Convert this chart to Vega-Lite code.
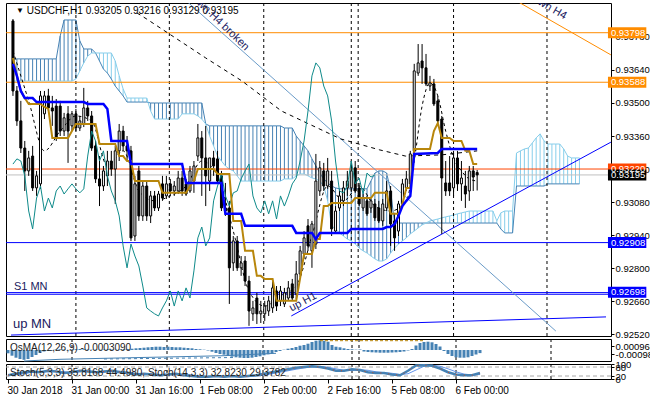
{
"$schema": "https://vega.github.io/schema/vega-lite/v6.json",
"padding": {"left": 2, "top": 2, "right": 0, "bottom": 0},
"background": "white",
"spacing": 3,
"bounds": "flush",
"config": {"view": {"stroke": "black", "strokeWidth": 1}, "font": "Liberation Sans", "text": {"font": "Liberation Sans"},
 "axis": {"domain": false, "grid": false, "ticks": true, "tickSize": 3, "tickColor": "black", "labelColor": "black", "labelFont": "Liberation Sans", "labelFontSize": 9.5, "labelPadding": 1, "labelOverlap": false}},
"resolve": {"scale": {"x": "independent", "y": "independent", "color": "independent"}},
"datasets": {
"candles": [
{"i":0,"o":0.93848,"h":0.93856,"l":0.93530,"c":0.93551},
{"i":1,"o":0.93551,"h":0.93572,"l":0.93403,"c":0.93424},
{"i":2,"o":0.93424,"h":0.93509,"l":0.93288,"c":0.93309},
{"i":3,"o":0.93309,"h":0.93339,"l":0.93127,"c":0.93212},
{"i":4,"o":0.93212,"h":0.93297,"l":0.93191,"c":0.93267},
{"i":5,"o":0.93275,"h":0.93318,"l":0.93127,"c":0.93140},
{"i":6,"o":0.93140,"h":0.93212,"l":0.93106,"c":0.93191},
{"i":7,"o":0.93157,"h":0.93551,"l":0.93136,"c":0.93530},
{"i":8,"o":0.93454,"h":0.93551,"l":0.93432,"c":0.93530},
{"i":9,"o":0.93530,"h":0.93560,"l":0.93466,"c":0.93479},
{"i":10,"o":0.93479,"h":0.93530,"l":0.93403,"c":0.93466},
{"i":11,"o":0.93487,"h":0.93517,"l":0.93339,"c":0.93352},
{"i":12,"o":0.93487,"h":0.93509,"l":0.93360,"c":0.93381},
{"i":13,"o":0.93381,"h":0.93458,"l":0.93360,"c":0.93437},
{"i":14,"o":0.93454,"h":0.93487,"l":0.93246,"c":0.93381},
{"i":15,"o":0.93403,"h":0.93466,"l":0.93381,"c":0.93454},
{"i":16,"o":0.93454,"h":0.93475,"l":0.93381,"c":0.93394},
{"i":17,"o":0.93394,"h":0.93445,"l":0.93381,"c":0.93424},
{"i":18,"o":0.93411,"h":0.93564,"l":0.93398,"c":0.93479},
{"i":19,"o":0.93479,"h":0.93509,"l":0.93424,"c":0.93445},
{"i":20,"o":0.93445,"h":0.93466,"l":0.93297,"c":0.93309},
{"i":21,"o":0.93318,"h":0.93339,"l":0.93161,"c":0.93178},
{"i":22,"o":0.93178,"h":0.93275,"l":0.93063,"c":0.93148},
{"i":23,"o":0.93148,"h":0.93233,"l":0.93127,"c":0.93212},
{"i":24,"o":0.93191,"h":0.93297,"l":0.93148,"c":0.93254},
{"i":25,"o":0.93254,"h":0.93297,"l":0.93191,"c":0.93220},
{"i":26,"o":0.93220,"h":0.93318,"l":0.93072,"c":0.93297},
{"i":27,"o":0.93297,"h":0.93411,"l":0.93254,"c":0.93381},
{"i":28,"o":0.93381,"h":0.93403,"l":0.93297,"c":0.93318},
{"i":29,"o":0.93318,"h":0.93360,"l":0.93254,"c":0.93297},
{"i":30,"o":0.93297,"h":0.93318,"l":0.92915,"c":0.92928},
{"i":31,"o":0.92936,"h":0.93191,"l":0.92915,"c":0.93157},
{"i":32,"o":0.93212,"h":0.93233,"l":0.93000,"c":0.93021},
{"i":33,"o":0.93021,"h":0.93169,"l":0.93000,"c":0.93148},
{"i":34,"o":0.93148,"h":0.93169,"l":0.93000,"c":0.93021},
{"i":35,"o":0.93021,"h":0.93127,"l":0.92991,"c":0.93106},
{"i":36,"o":0.93106,"h":0.93127,"l":0.93042,"c":0.93055},
{"i":37,"o":0.93055,"h":0.93127,"l":0.93042,"c":0.93114},
{"i":38,"o":0.93157,"h":0.93191,"l":0.93085,"c":0.93097},
{"i":39,"o":0.93106,"h":0.93191,"l":0.93093,"c":0.93157},
{"i":40,"o":0.93157,"h":0.93178,"l":0.93106,"c":0.93127},
{"i":41,"o":0.93127,"h":0.93169,"l":0.93106,"c":0.93148},
{"i":42,"o":0.93127,"h":0.93212,"l":0.93114,"c":0.93182},
{"i":43,"o":0.93182,"h":0.93212,"l":0.93106,"c":0.93127},
{"i":44,"o":0.93157,"h":0.93178,"l":0.93106,"c":0.93114},
{"i":45,"o":0.93127,"h":0.93233,"l":0.93119,"c":0.93212},
{"i":46,"o":0.93169,"h":0.93254,"l":0.93119,"c":0.93233},
{"i":47,"o":0.93275,"h":0.93411,"l":0.93254,"c":0.93352},
{"i":48,"o":0.93352,"h":0.93381,"l":0.93106,"c":0.93267},
{"i":49,"o":0.93267,"h":0.93403,"l":0.93063,"c":0.93191},
{"i":50,"o":0.93169,"h":0.93233,"l":0.93127,"c":0.93267},
{"i":51,"o":0.93267,"h":0.93297,"l":0.93191,"c":0.93233},
{"i":52,"o":0.93263,"h":0.93297,"l":0.93161,"c":0.93169},
{"i":53,"o":0.93191,"h":0.93212,"l":0.93042,"c":0.93055},
{"i":54,"o":0.93055,"h":0.93161,"l":0.93021,"c":0.93042},
{"i":55,"o":0.93055,"h":0.93085,"l":0.92648,"c":0.92801},
{"i":56,"o":0.92822,"h":0.92936,"l":0.92788,"c":0.92915},
{"i":57,"o":0.92915,"h":0.92936,"l":0.92788,"c":0.92801},
{"i":58,"o":0.92801,"h":0.92851,"l":0.92767,"c":0.92822},
{"i":59,"o":0.92830,"h":0.92851,"l":0.92724,"c":0.92745},
{"i":60,"o":0.92745,"h":0.92767,"l":0.92555,"c":0.92618},
{"i":61,"o":0.92606,"h":0.92661,"l":0.92576,"c":0.92631},
{"i":62,"o":0.92673,"h":0.92695,"l":0.92563,"c":0.92606},
{"i":63,"o":0.92606,"h":0.92661,"l":0.92567,"c":0.92618},
{"i":64,"o":0.92606,"h":0.92661,"l":0.92576,"c":0.92639},
{"i":65,"o":0.92618,"h":0.92682,"l":0.92597,"c":0.92661},
{"i":66,"o":0.92631,"h":0.92745,"l":0.92610,"c":0.92716},
{"i":67,"o":0.92703,"h":0.92724,"l":0.92618,"c":0.92639},
{"i":68,"o":0.92661,"h":0.92724,"l":0.92639,"c":0.92703},
{"i":69,"o":0.92648,"h":0.92716,"l":0.92635,"c":0.92695},
{"i":70,"o":0.92673,"h":0.92745,"l":0.92661,"c":0.92716},
{"i":71,"o":0.92733,"h":0.92754,"l":0.92661,"c":0.92673},
{"i":72,"o":0.92690,"h":0.92830,"l":0.92669,"c":0.92775},
{"i":73,"o":0.92775,"h":0.92894,"l":0.92762,"c":0.92873},
{"i":74,"o":0.92860,"h":0.92957,"l":0.92839,"c":0.92928},
{"i":75,"o":0.92979,"h":0.93008,"l":0.92873,"c":0.92894},
{"i":76,"o":0.92873,"h":0.93000,"l":0.92801,"c":0.92987},
{"i":77,"o":0.92902,"h":0.93284,"l":0.92881,"c":0.93169},
{"i":78,"o":0.93127,"h":0.93254,"l":0.93106,"c":0.93225},
{"i":79,"o":0.93212,"h":0.93246,"l":0.93127,"c":0.93148},
{"i":80,"o":0.93148,"h":0.93267,"l":0.93136,"c":0.93212},
{"i":81,"o":0.93169,"h":0.93212,"l":0.92936,"c":0.92966},
{"i":82,"o":0.92957,"h":0.93063,"l":0.92945,"c":0.93042},
{"i":83,"o":0.93055,"h":0.93127,"l":0.93042,"c":0.93106},
{"i":84,"o":0.93085,"h":0.93169,"l":0.93063,"c":0.93140},
{"i":85,"o":0.93140,"h":0.93212,"l":0.93106,"c":0.93169},
{"i":86,"o":0.93140,"h":0.93254,"l":0.93127,"c":0.93212},
{"i":87,"o":0.93225,"h":0.93254,"l":0.93119,"c":0.93127},
{"i":88,"o":0.93140,"h":0.93161,"l":0.93063,"c":0.93072},
{"i":89,"o":0.93055,"h":0.93114,"l":0.93042,"c":0.93097},
{"i":90,"o":0.93085,"h":0.93106,"l":0.93021,"c":0.93030},
{"i":91,"o":0.93055,"h":0.93093,"l":0.93034,"c":0.93085},
{"i":92,"o":0.93072,"h":0.93093,"l":0.93000,"c":0.93013},
{"i":93,"o":0.93055,"h":0.93085,"l":0.92991,"c":0.93000},
{"i":94,"o":0.93000,"h":0.93093,"l":0.92979,"c":0.93072},
{"i":95,"o":0.93055,"h":0.93169,"l":0.93042,"c":0.93127},
{"i":96,"o":0.93127,"h":0.93148,"l":0.92894,"c":0.92987},
{"i":97,"o":0.93000,"h":0.93034,"l":0.92873,"c":0.92928},
{"i":98,"o":0.92957,"h":0.93085,"l":0.92936,"c":0.93072},
{"i":99,"o":0.93072,"h":0.93178,"l":0.93059,"c":0.93157},
{"i":100,"o":0.93140,"h":0.93212,"l":0.93127,"c":0.93178},
{"i":101,"o":0.93157,"h":0.93297,"l":0.93144,"c":0.93284},
{"i":102,"o":0.93297,"h":0.93666,"l":0.93284,"c":0.93636},
{"i":103,"o":0.93627,"h":0.93750,"l":0.93615,"c":0.93670},
{"i":104,"o":0.93678,"h":0.93750,"l":0.93581,"c":0.93649},
{"i":105,"o":0.93649,"h":0.93708,"l":0.93572,"c":0.93581},
{"i":106,"o":0.93572,"h":0.93615,"l":0.93551,"c":0.93585},
{"i":107,"o":0.93581,"h":0.93602,"l":0.93487,"c":0.93496},
{"i":108,"o":0.93509,"h":0.93530,"l":0.93415,"c":0.93424},
{"i":109,"o":0.93432,"h":0.93445,"l":0.92945,"c":0.93182},
{"i":110,"o":0.93161,"h":0.93254,"l":0.93106,"c":0.93127},
{"i":111,"o":0.93161,"h":0.93275,"l":0.93106,"c":0.93127},
{"i":112,"o":0.93140,"h":0.93297,"l":0.93106,"c":0.93267},
{"i":113,"o":0.93267,"h":0.93297,"l":0.93127,"c":0.93157},
{"i":114,"o":0.93157,"h":0.93254,"l":0.93085,"c":0.93182},
{"i":115,"o":0.93148,"h":0.93212,"l":0.93055,"c":0.93114},
{"i":116,"o":0.93127,"h":0.93233,"l":0.93085,"c":0.93212},
{"i":117,"o":0.93212,"h":0.93233,"l":0.93127,"c":0.93186},
{"i":118,"o":0.93205,"h":0.93216,"l":0.93129,"c":0.93195}
],
"kijun": [
{"i":0,"p":0.93666},{"i":1,"p":0.93615},{"i":2,"p":0.93551},{"i":3,"p":0.93521},{"i":5,"p":0.93521},{"i":6,"p":0.93504},{"i":18,"p":0.93504},{"i":19,"p":0.93496},{"i":23,"p":0.93496},{"i":24,"p":0.93475},{"i":25,"p":0.93339},{"i":29,"p":0.93339},{"i":30,"p":0.93241},{"i":43,"p":0.93241},{"i":44,"p":0.93161},{"i":53,"p":0.93161},{"i":54,"p":0.93030},{"i":58,"p":0.93030},{"i":59,"p":0.92979},{"i":71,"p":0.92979},{"i":72,"p":0.92949},{"i":76,"p":0.92949},{"i":77,"p":0.92923},{"i":78,"p":0.92949},{"i":85,"p":0.92949},{"i":86,"p":0.92966},{"i":94,"p":0.92966},{"i":95,"p":0.92974},{"i":96,"p":0.92974},{"i":97,"p":0.92987},{"i":98,"p":0.93021},{"i":99,"p":0.93063},{"i":100,"p":0.93085},{"i":101,"p":0.93106},{"i":102,"p":0.93284},{"i":108,"p":0.93288},{"i":109,"p":0.93305},{"i":118,"p":0.93305}
],
"tenkan": [
{"i":0,"p":0.93691},{"i":1,"p":0.93615},{"i":2,"p":0.93551},{"i":3,"p":0.93521},{"i":4,"p":0.93496},{"i":7,"p":0.93496},{"i":8,"p":0.93483},{"i":9,"p":0.93475},{"i":10,"p":0.93352},{"i":14,"p":0.93352},{"i":15,"p":0.93381},{"i":16,"p":0.93411},{"i":21,"p":0.93411},{"i":22,"p":0.93326},{"i":26,"p":0.93326},{"i":27,"p":0.93275},{"i":28,"p":0.93275},{"i":29,"p":0.93254},{"i":30,"p":0.93254},{"i":31,"p":0.93169},{"i":37,"p":0.93169},{"i":38,"p":0.93119},{"i":44,"p":0.93119},{"i":45,"p":0.93148},{"i":46,"p":0.93169},{"i":47,"p":0.93220},{"i":51,"p":0.93220},{"i":52,"p":0.93199},{"i":55,"p":0.93199},{"i":56,"p":0.93000},{"i":58,"p":0.93000},{"i":59,"p":0.92873},{"i":61,"p":0.92873},{"i":62,"p":0.92767},{"i":63,"p":0.92767},{"i":64,"p":0.92754},{"i":66,"p":0.92754},{"i":67,"p":0.92661},{"i":72,"p":0.92661},{"i":73,"p":0.92758},{"i":74,"p":0.92860},{"i":76,"p":0.92860},{"i":77,"p":0.92923},{"i":78,"p":0.92923},{"i":79,"p":0.93063},{"i":80,"p":0.93063},{"i":81,"p":0.93076},{"i":86,"p":0.93076},{"i":87,"p":0.93097},{"i":91,"p":0.93097},{"i":92,"p":0.93119},{"i":95,"p":0.93119},{"i":96,"p":0.93030},{"i":98,"p":0.93030},{"i":99,"p":0.93072},{"i":100,"p":0.93140},{"i":101,"p":0.93140},{"i":102,"p":0.93305},{"i":106,"p":0.93305},{"i":107,"p":0.93381},{"i":108,"p":0.93415},{"i":109,"p":0.93352},{"i":111,"p":0.93352},{"i":112,"p":0.93339},{"i":114,"p":0.93339},{"i":115,"p":0.93297},{"i":116,"p":0.93297},{"i":117,"p":0.93241},{"i":118,"p":0.93241}
],
"chikou": [
{"i":0,"p":0.93241},{"i":1,"p":0.93263},{"i":2,"p":0.93254},{"i":3,"p":0.93191},{"i":4,"p":0.93042},{"i":5,"p":0.92966},{"i":6,"p":0.93097},{"i":7,"p":0.93148},{"i":8,"p":0.93042},{"i":9,"p":0.93097},{"i":10,"p":0.93055},{"i":11,"p":0.93127},{"i":12,"p":0.93148},{"i":13,"p":0.93114},{"i":14,"p":0.93136},{"i":15,"p":0.93157},{"i":16,"p":0.93136},{"i":17,"p":0.93119},{"i":18,"p":0.93136},{"i":19,"p":0.93275},{"i":20,"p":0.93381},{"i":21,"p":0.93339},{"i":22,"p":0.93254},{"i":23,"p":0.93297},{"i":24,"p":0.93191},{"i":25,"p":0.93127},{"i":26,"p":0.93085},{"i":27,"p":0.93021},{"i":28,"p":0.92894},{"i":29,"p":0.92801},{"i":30,"p":0.92902},{"i":31,"p":0.92851},{"i":32,"p":0.92809},{"i":33,"p":0.92724},{"i":34,"p":0.92631},{"i":35,"p":0.92618},{"i":36,"p":0.92606},{"i":37,"p":0.92597},{"i":38,"p":0.92631},{"i":39,"p":0.92661},{"i":40,"p":0.92703},{"i":41,"p":0.92639},{"i":42,"p":0.92703},{"i":43,"p":0.92661},{"i":44,"p":0.92716},{"i":45,"p":0.92673},{"i":46,"p":0.92788},{"i":47,"p":0.92928},{"i":48,"p":0.92974},{"i":49,"p":0.92894},{"i":50,"p":0.92928},{"i":51,"p":0.93085},{"i":52,"p":0.93148},{"i":53,"p":0.93199},{"i":54,"p":0.93106},{"i":55,"p":0.93063},{"i":56,"p":0.93119},{"i":57,"p":0.93127},{"i":58,"p":0.93178},{"i":59,"p":0.93212},{"i":60,"p":0.93241},{"i":61,"p":0.93106},{"i":62,"p":0.93055},{"i":63,"p":0.93034},{"i":64,"p":0.93085},{"i":65,"p":0.93030},{"i":66,"p":0.93085},{"i":67,"p":0.93008},{"i":68,"p":0.93106},{"i":69,"p":0.93063},{"i":70,"p":0.93106},{"i":71,"p":0.93157},{"i":72,"p":0.93182},{"i":73,"p":0.93254},{"i":74,"p":0.93339},{"i":75,"p":0.93466},{"i":76,"p":0.93615},{"i":77,"p":0.93670},{"i":78,"p":0.93649},{"i":79,"p":0.93572},{"i":80,"p":0.93530},{"i":81,"p":0.93424},{"i":82,"p":0.93254},{"i":83,"p":0.93127},{"i":84,"p":0.93119},{"i":85,"p":0.93148},{"i":86,"p":0.93254},{"i":87,"p":0.93157},{"i":88,"p":0.93182},{"i":89,"p":0.93114},{"i":90,"p":0.93203},{"i":91,"p":0.93186},{"i":92,"p":0.93195}
],
"cloud": [
{"i":0,"s":0.93687,"l":0.93593},{"i":1,"s":0.93687,"l":0.93593},{"i":2,"s":0.93687,"l":0.93593},{"i":3,"s":0.93687,"l":0.93593},{"i":4,"s":0.93687,"l":0.93593},{"i":5,"s":0.93687,"l":0.93593},{"i":6,"s":0.93687,"l":0.93593},{"i":7,"s":0.93687,"l":0.93593},{"i":8,"s":0.93687,"l":0.93593},{"i":9,"s":0.93687,"l":0.93593},{"i":10,"s":0.93687,"l":0.93593},{"i":11,"s":0.93687,"l":0.93593},
{"i":12,"s":0.93784,"l":0.93593},{"i":13,"s":0.93852,"l":0.93593},{"i":14,"s":0.93852,"l":0.93593},{"i":15,"s":0.93852,"l":0.93593},{"i":16,"s":0.93852,"l":0.93602},{"i":17,"s":0.93763,"l":0.93636},{"i":18,"s":0.93729,"l":0.93670},{"i":19,"s":0.93729,"l":0.93699},{"i":20,"s":0.93729,"l":0.93712},{"i":21,"s":0.93712,"l":0.93712},{"i":22,"s":0.93678,"l":0.93712},{"i":23,"s":0.93644,"l":0.93712},{"i":24,"s":0.93627,"l":0.93712},{"i":25,"s":0.93602,"l":0.93712},{"i":26,"s":0.93572,"l":0.93678},{"i":27,"s":0.93551,"l":0.93615},{"i":28,"s":0.93530,"l":0.93560},
{"i":29,"s":0.93504,"l":0.93521},{"i":30,"s":0.93504,"l":0.93521},{"i":31,"s":0.93504,"l":0.93521},{"i":32,"s":0.93504,"l":0.93521},{"i":33,"s":0.93504,"l":0.93521},{"i":34,"s":0.93504,"l":0.93521},{"i":35,"s":0.93500,"l":0.93466},
{"i":36,"s":0.93500,"l":0.93432},{"i":37,"s":0.93500,"l":0.93432},{"i":38,"s":0.93500,"l":0.93432},{"i":39,"s":0.93500,"l":0.93432},{"i":40,"s":0.93500,"l":0.93432},{"i":41,"s":0.93500,"l":0.93432},{"i":42,"s":0.93500,"l":0.93432},
{"i":43,"s":0.93500,"l":0.93454},{"i":44,"s":0.93500,"l":0.93454},{"i":45,"s":0.93500,"l":0.93454},{"i":46,"s":0.93500,"l":0.93454},{"i":47,"s":0.93500,"l":0.93445},{"i":48,"s":0.93500,"l":0.93432},{"i":49,"s":0.93411,"l":0.93411},
{"i":50,"s":0.93403,"l":0.93360},{"i":51,"s":0.93403,"l":0.93318},{"i":52,"s":0.93403,"l":0.93275},{"i":53,"s":0.93403,"l":0.93254},{"i":54,"s":0.93403,"l":0.93233},{"i":55,"s":0.93403,"l":0.93220},{"i":56,"s":0.93403,"l":0.93212},{"i":57,"s":0.93403,"l":0.93191},
{"i":58,"s":0.93403,"l":0.93169},{"i":59,"s":0.93403,"l":0.93169},{"i":60,"s":0.93403,"l":0.93169},{"i":61,"s":0.93403,"l":0.93169},{"i":62,"s":0.93403,"l":0.93169},{"i":63,"s":0.93403,"l":0.93169},{"i":64,"s":0.93403,"l":0.93169},{"i":65,"s":0.93403,"l":0.93169},{"i":66,"s":0.93403,"l":0.93169},{"i":67,"s":0.93403,"l":0.93169},{"i":68,"s":0.93403,"l":0.93169},
{"i":69,"s":0.93394,"l":0.93178},{"i":70,"s":0.93394,"l":0.93178},{"i":71,"s":0.93394,"l":0.93178},{"i":72,"s":0.93360,"l":0.93191},{"i":73,"s":0.93339,"l":0.93199},{"i":74,"s":0.93318,"l":0.93199},{"i":75,"s":0.93297,"l":0.93191},{"i":76,"s":0.93263,"l":0.93182},{"i":77,"s":0.93233,"l":0.93178},{"i":78,"s":0.93203,"l":0.93169},{"i":79,"s":0.93178,"l":0.93148},{"i":80,"s":0.93161,"l":0.93085},
{"i":81,"s":0.93148,"l":0.92979},{"i":82,"s":0.93140,"l":0.92966},{"i":83,"s":0.93136,"l":0.92949},{"i":84,"s":0.93136,"l":0.92936},{"i":85,"s":0.93136,"l":0.92923},{"i":86,"s":0.93136,"l":0.92915},{"i":87,"s":0.93136,"l":0.92902},{"i":88,"s":0.93136,"l":0.92885},{"i":89,"s":0.93136,"l":0.92873},{"i":90,"s":0.93136,"l":0.92864},
{"i":91,"s":0.93169,"l":0.92851},{"i":92,"s":0.93203,"l":0.92839},{"i":93,"s":0.93212,"l":0.92830},{"i":94,"s":0.93212,"l":0.92830},{"i":95,"s":0.93203,"l":0.92839},{"i":96,"s":0.93127,"l":0.92864},
{"i":97,"s":0.92991,"l":0.92885},{"i":98,"s":0.92991,"l":0.92902},{"i":99,"s":0.92991,"l":0.92915},{"i":100,"s":0.92991,"l":0.92928},{"i":101,"s":0.92991,"l":0.92945},{"i":102,"s":0.92991,"l":0.92957},{"i":103,"s":0.92991,"l":0.92970},{"i":104,"s":0.92991,"l":0.92983},{"i":105,"s":0.92991,"l":0.92991},{"i":106,"s":0.92991,"l":0.93000},{"i":107,"s":0.92991,"l":0.93004},{"i":108,"s":0.92991,"l":0.93008},{"i":109,"s":0.92991,"l":0.93013},{"i":110,"s":0.92991,"l":0.93017},{"i":111,"s":0.92991,"l":0.93021},{"i":112,"s":0.92991,"l":0.93025},{"i":113,"s":0.92991,"l":0.93030},{"i":114,"s":0.92991,"l":0.93034},{"i":115,"s":0.92991,"l":0.93038},
{"i":116,"s":0.92991,"l":0.93042},{"i":117,"s":0.92991,"l":0.93042},{"i":118,"s":0.92991,"l":0.93042},{"i":119,"s":0.92991,"l":0.93042},{"i":120,"s":0.92991,"l":0.93042},{"i":121,"s":0.92991,"l":0.93042},{"i":122,"s":0.92991,"l":0.93042},{"i":123,"s":0.92991,"l":0.93000},{"i":124,"s":0.92966,"l":0.93034},{"i":125,"s":0.92949,"l":0.93042},{"i":126,"s":0.92949,"l":0.93042},{"i":127,"s":0.92949,"l":0.93042},
{"i":128,"s":0.93148,"l":0.93288},{"i":129,"s":0.93148,"l":0.93297},{"i":130,"s":0.93148,"l":0.93305},{"i":131,"s":0.93148,"l":0.93309},{"i":132,"s":0.93148,"l":0.93330},{"i":133,"s":0.93148,"l":0.93352},{"i":134,"s":0.93148,"l":0.93369},{"i":135,"s":0.93148,"l":0.93339},
{"i":136,"s":0.93157,"l":0.93326},{"i":137,"s":0.93157,"l":0.93326},{"i":138,"s":0.93157,"l":0.93326},{"i":139,"s":0.93157,"l":0.93326},{"i":140,"s":0.93157,"l":0.93305},{"i":141,"s":0.93157,"l":0.93275},{"i":142,"s":0.93157,"l":0.93267},{"i":143,"s":0.93157,"l":0.93267},{"i":144,"s":0.93157,"l":0.93267}
],
"ma1": [
{"i":31.5,"p":0.93882},{"i":34,"p":0.93856},{"i":49,"p":0.93691},{"i":58.25,"p":0.93593},{"i":68.25,"p":0.93466},{"i":83.25,"p":0.93348},{"i":93.25,"p":0.93301},{"i":99.75,"p":0.93275},{"i":109,"p":0.93280},{"i":118,"p":0.93297}
],
"ma2": [
{"i":0,"p":0.93721},{"i":4,"p":0.93509},{"i":8,"p":0.93297},{"i":12,"p":0.93381},{"i":16,"p":0.93445},{"i":20,"p":0.93424},{"i":24,"p":0.93233},{"i":28,"p":0.93297},{"i":32,"p":0.93127},{"i":36,"p":0.93085},{"i":40,"p":0.93106},{"i":44,"p":0.93148},{"i":48,"p":0.93254},{"i":52,"p":0.93191},{"i":56,"p":0.92957},{"i":60,"p":0.92703},{"i":64,"p":0.92639},{"i":68,"p":0.92682},{"i":72,"p":0.92724},{"i":76,"p":0.92936},{"i":80,"p":0.93148},{"i":84,"p":0.93085},{"i":88,"p":0.93148},{"i":92,"p":0.93063},{"i":96,"p":0.93042},{"i":100,"p":0.93085},{"i":102,"p":0.93254},{"i":104,"p":0.93487},{"i":106,"p":0.93585},{"i":108,"p":0.93530},{"i":110,"p":0.93381},{"i":112,"p":0.93267},{"i":114,"p":0.93212},{"i":116,"p":0.93178},{"i":118,"p":0.93169}
],
"hl": [
{"p":0.93798,"n":"r1"},{"p":0.93588,"n":"r2"},{"p":0.93220,"n":"piv"},{"p":0.93195,"n":"bid"},{"p":0.92908,"n":"s1"},{"p":0.92696,"n":"mn1"},{"p":0.92689,"n":"mn2"}
],
"tags": [
{"p":0.93798,"t":"0.93798","n":"r1"},{"p":0.93588,"t":"0.93588","n":"r2"},{"p":0.93220,"t":"0.93220","n":"piv"},{"p":0.93195,"t":"0.93195","n":"bidtag"},{"p":0.92908,"t":"0.92908","n":"s1"},{"p":0.92698,"t":"0.92698","n":"mn1"}
],
"segs": [
{"n":"dh4b","i1":44,"p1":0.93934,"i2":138,"p2":0.92533},
{"n":"dh4","i1":128,"p1":0.93933,"i2":152,"p2":0.93704},
{"n":"uph1","i1":70.75,"p1":0.92597,"i2":152,"p2":0.93334},
{"n":"upmn","i1":-0.5,"p1":0.92516,"i2":150.75,"p2":0.92593}
],
"notes": [
{"k":"tri","i":0.75,"p":0.9389,"t":"▼"},
{"k":"title","i":3.5,"p":0.9389,"t":"USDCHF,H1  0.93205 0.93216 0.93129 0.93195"},
{"k":"s1mn","i":0.25,"p":0.9272,"t":"S1 MN"},
{"k":"upmn","i":0.0,"p":0.92563,"t":"up MN"},
{"k":"uph1","i":73.75,"p":0.92656,"t":"up H1"},
{"k":"dh4b","i":52.25,"p":0.93848,"t":"down H4 broken"},
{"k":"dh4","i":135.75,"p":0.93911,"t":"down H4"}
],
"seps": [{"i":16},{"i":39.75},{"i":63.75},{"i":86},{"i":87.75},{"i":112},{"i":135.75}],
"osma": [
{"i":0,"v":-0.00033},{"i":1,"v":-0.00057},{"i":2,"v":-0.00077},{"i":3,"v":-0.0009},{"i":4,"v":-0.00098},{"i":5,"v":-0.0009},{"i":6,"v":-0.0007},{"i":7,"v":-0.0005},{"i":8,"v":-0.0003},{"i":9,"v":-0.00015},{"i":10,"v":-0.00008},{"i":11,"v":-0.00005},{"i":12,"v":0.00005},{"i":13,"v":0.00008},{"i":14,"v":0.00005},{"i":15,"v":-0.00005},{"i":16,"v":0.00005},{"i":17,"v":0.00008},{"i":18,"v":0.0001},{"i":19,"v":0.00008},{"i":20,"v":0.00005},{"i":21,"v":0.00003},{"i":22,"v":0.00005},{"i":23,"v":0.00003},{"i":24,"v":0.00005},{"i":25,"v":0.00008},{"i":26,"v":0.00005},{"i":27,"v":0.00003},{"i":28,"v":0.00005},{"i":29,"v":0.00007},{"i":30,"v":0.0001},{"i":31,"v":0.00013},{"i":32,"v":0.00017},{"i":33,"v":0.0002},{"i":34,"v":0.00023},{"i":35,"v":0.00027},{"i":36,"v":0.0003},{"i":37,"v":0.00033},{"i":38,"v":0.00033},{"i":39,"v":0.0003},{"i":40,"v":0.00033},{"i":41,"v":0.0003},{"i":42,"v":0.00027},{"i":43,"v":0.00027},{"i":44,"v":0.00023},{"i":45,"v":0.0002},{"i":46,"v":0.00017},{"i":47,"v":0.0001},{"i":48,"v":0.00007},{"i":49,"v":0.00003},{"i":50,"v":-0.00005},{"i":51,"v":-0.00017},{"i":52,"v":-0.0003},{"i":53,"v":-0.0004},{"i":54,"v":-0.00047},{"i":55,"v":-0.0006},{"i":56,"v":-0.00067},{"i":57,"v":-0.00073},{"i":58,"v":-0.00077},{"i":59,"v":-0.0008},{"i":60,"v":-0.0008},{"i":61,"v":-0.00077},{"i":62,"v":-0.0007},{"i":63,"v":-0.00063},{"i":64,"v":-0.00053},{"i":65,"v":-0.00043},{"i":66,"v":-0.0003},{"i":67,"v":-0.0002},{"i":68,"v":-0.0001},{"i":69,"v":0.00003},{"i":70,"v":0.00013},{"i":71,"v":0.0002},{"i":72,"v":0.0003},{"i":73,"v":0.00043},{"i":74,"v":0.0005},{"i":75,"v":0.00063},{"i":76,"v":0.0008},{"i":77,"v":0.00093},{"i":78,"v":0.00097},{"i":79,"v":0.00093},{"i":80,"v":0.00083},{"i":81,"v":0.0005},{"i":82,"v":0.00033},{"i":83,"v":0.00027},{"i":84,"v":0.00017},{"i":85,"v":0.0001},{"i":86,"v":0.00007},{"i":87,"v":0.00003},{"i":88,"v":0.00005},{"i":89,"v":-0.00015},{"i":90,"v":-0.0002},{"i":91,"v":-0.00023},{"i":92,"v":-0.00025},{"i":93,"v":-0.00027},{"i":94,"v":-0.00027},{"i":95,"v":-0.00027},{"i":96,"v":-0.00025},{"i":97,"v":-0.00023},{"i":98,"v":-0.0002},{"i":99,"v":-0.00015},{"i":100,"v":-0.00005},{"i":101,"v":0.0001},{"i":102,"v":0.00045},{"i":103,"v":0.0007},{"i":104,"v":0.0008},{"i":105,"v":0.00083},{"i":106,"v":0.00077},{"i":107,"v":0.0006},{"i":108,"v":0.00035},{"i":109,"v":-0.0001},{"i":110,"v":-0.0004},{"i":111,"v":-0.0006},{"i":112,"v":-0.00073},{"i":113,"v":-0.00077},{"i":114,"v":-0.00077},{"i":115,"v":-0.00073},{"i":116,"v":-0.0006},{"i":117,"v":-0.00045},{"i":118,"v":-0.00031}
],
"osl": [{"i":4,"v":-0.0011},{"i":13,"v":-0.00093},{"i":31,"v":-0.00077},{"i":43,"v":-0.00067},{"i":54,"v":-0.00057},{"i":67,"v":-0.00033}],
"osd": [{"i":24,"v":-0.0009},{"i":57,"v":-0.00075}],
"oso": [{"i":78,"v":0.00093},{"i":104,"v":0.00093}],
"stoch": [
{"i":0,"a":25,"b":30},{"i":2,"a":35,"b":28},{"i":4,"a":45,"b":35},{"i":6,"a":50,"b":45},{"i":8,"a":45,"b":50},{"i":10,"a":55,"b":48},{"i":12,"a":50,"b":52},{"i":14,"a":40,"b":48},{"i":16,"a":45,"b":42},{"i":18,"a":55,"b":48},{"i":20,"a":50,"b":54},{"i":22,"a":45,"b":50},{"i":24,"a":50,"b":46},{"i":26,"a":55,"b":50},{"i":28,"a":45,"b":52},{"i":30,"a":40,"b":45},{"i":32,"a":30,"b":38},{"i":34,"a":35,"b":32},{"i":36,"a":30,"b":33},{"i":38,"a":25,"b":30},{"i":40,"a":30,"b":27},{"i":42,"a":35,"b":30},{"i":44,"a":25,"b":32},{"i":46,"a":20,"b":26},{"i":48,"a":15,"b":20},{"i":50,"a":15,"b":16},{"i":52,"a":20,"b":16},{"i":54,"a":15,"b":18},{"i":56,"a":20,"b":16},{"i":58,"a":15,"b":18},{"i":60,"a":20,"b":16},{"i":62,"a":25,"b":20},{"i":64,"a":35,"b":26},{"i":66,"a":45,"b":35},{"i":68,"a":55,"b":45},{"i":70,"a":65,"b":55},{"i":72,"a":75,"b":65},{"i":74,"a":80,"b":74},{"i":76,"a":85,"b":80},{"i":78,"a":80,"b":84},{"i":80,"a":70,"b":78},{"i":82,"a":55,"b":68},{"i":84,"a":55,"b":58},{"i":86,"a":65,"b":56},{"i":88,"a":60,"b":62},{"i":90,"a":45,"b":58},{"i":92,"a":40,"b":48},{"i":94,"a":40,"b":42},{"i":96,"a":30,"b":38},{"i":98,"a":25,"b":30},{"i":100,"a":55,"b":35},{"i":102,"a":90,"b":60},{"i":104,"a":92,"b":85},{"i":106,"a":88,"b":92},{"i":108,"a":70,"b":85},{"i":110,"a":45,"b":68},{"i":112,"a":30,"b":48},{"i":114,"a":25,"b":33},{"i":116,"a":25,"b":27},{"i":118,"a":40,"b":30}
],
"levels": [{"v":80},{"v":20}],
"sublabels": [{"k":"osma","t":"OsMA(12,26,9) -0.0003090"},{"k":"stoch","t":"Stoch(5,3,3) 35.8168 44.4980, Stoch(14,3,3) 32.8230 29.3782"}]
},
"vconcat": [
{
"width": 605, "height": 333,
"encoding": {
 "x": {"type": "quantitative", "scale": {"domain": [-0.5, 150.75], "nice": false, "zero": false}, "axis": null},
 "y": {"type": "quantitative", "scale": {"domain": [0.92512, 0.93924], "nice": false, "zero": false},
       "axis": {"orient": "right", "values": [0.9252, 0.9266, 0.928, 0.9294, 0.9308, 0.9322, 0.9336, 0.935, 0.9364, 0.9378], "format": ".5f", "title": null}}
},
"layer": [
{"data": {"name": "cloud"}, "mark": {"type": "rule", "strokeWidth": 1},
 "encoding": {"x": {"field": "i"}, "y": {"field": "s"}, "y2": {"field": "l"},
  "color": {"condition": {"test": "datum.s >= datum.l", "value": "#4682B4"}, "value": "#87CEEB"}}},
{"data": {"name": "cloud"}, "mark": {"type": "line", "strokeWidth": 1, "color": "#4682B4"},
 "encoding": {"x": {"field": "i"}, "y": {"field": "s"}}},
{"data": {"name": "cloud"}, "mark": {"type": "line", "strokeWidth": 1, "color": "#87CEEB"},
 "encoding": {"x": {"field": "i"}, "y": {"field": "l"}}},
{"data": {"name": "seps"}, "mark": {"type": "rule", "strokeDash": [3, 3], "color": "black", "strokeWidth": 1},
 "encoding": {"x": {"field": "i"}, "y": null}},
{"data": {"name": "hl"}, "mark": {"type": "rule", "strokeWidth": 1},
 "encoding": {"x": null, "y": {"field": "p"},
  "color": {"field": "n", "type": "nominal", "legend": null, "scale": {"domain": ["r1","r2","piv","bid","bidtag","s1","mn1","mn2","dh4b","dh4","uph1","upmn"], "range": ["#FF8C00","#FF8C00","#FF4500","#C0C0C0","#000000","#0000FF","#0000FF","#0000FF","#6A9BC8","#FF8C00","#0000FF","#0000FF"]}}}},
{"data": {"name": "segs"}, "mark": {"type": "rule", "strokeWidth": 1, "clip": true},
 "encoding": {"x": {"field": "i1"}, "x2": {"field": "i2"}, "y": {"field": "p1"}, "y2": {"field": "p2"},
  "color": {"field": "n", "type": "nominal", "legend": null}}},
{"data": {"name": "ma1"}, "mark": {"type": "line", "strokeDash": [4, 4], "strokeWidth": 1, "color": "black", "clip": true},
 "encoding": {"x": {"field": "i"}, "y": {"field": "p"}}},
{"data": {"name": "ma2"}, "mark": {"type": "line", "strokeDash": [3, 3], "strokeWidth": 1, "color": "black", "clip": true, "interpolate": "monotone"},
 "encoding": {"x": {"field": "i"}, "y": {"field": "p"}}},
{"data": {"name": "candles"}, "mark": {"type": "rule", "color": "black", "strokeWidth": 1},
 "encoding": {"x": {"field": "i"}, "y": {"field": "l"}, "y2": {"field": "h"}}},
{"data": {"name": "candles"}, "mark": {"type": "bar", "width": 2, "stroke": "black", "strokeWidth": 1},
 "encoding": {"x": {"field": "i"}, "y": {"field": "o"}, "y2": {"field": "c"},
  "fill": {"condition": {"test": "datum.c >= datum.o", "value": "white"}, "value": "black"}}},
{"data": {"name": "chikou"}, "mark": {"type": "line", "strokeWidth": 1, "color": "#0E8A8A"},
 "encoding": {"x": {"field": "i"}, "y": {"field": "p"}}},
{"data": {"name": "tenkan"}, "mark": {"type": "line", "strokeWidth": 2, "color": "#B8860B"},
 "encoding": {"x": {"field": "i"}, "y": {"field": "p"}}},
{"data": {"name": "kijun"}, "mark": {"type": "line", "strokeWidth": 2.5, "color": "#0000FF"},
 "encoding": {"x": {"field": "i"}, "y": {"field": "p"}}},
{"data": {"name": "tags"}, "mark": {"type": "rule", "strokeWidth": 11, "clip": false},
 "encoding": {"x": {"datum": 151.25}, "x2": {"datum": 161}, "y": {"field": "p"},
  "color": {"field": "n", "type": "nominal", "legend": null}}},
{"data": {"name": "tags"}, "mark": {"type": "text", "align": "left", "baseline": "middle", "fontSize": 9.5, "color": "white", "clip": false},
 "encoding": {"x": {"datum": 152}, "y": {"field": "p"}, "text": {"field": "t"}}},
{"data": {"name": "notes"}, "transform": [{"filter": "datum.k == 'tri'"}], "mark": {"type": "text", "align": "left", "baseline": "middle", "fontSize": 8, "color": "black"},
 "encoding": {"x": {"field": "i"}, "y": {"field": "p"}, "text": {"field": "t"}}},
{"data": {"name": "notes"}, "transform": [{"filter": "datum.k == 'title'"}], "mark": {"type": "text", "align": "left", "baseline": "middle", "fontSize": 10, "color": "black"},
 "encoding": {"x": {"field": "i"}, "y": {"field": "p"}, "text": {"field": "t"}}},
{"data": {"name": "notes"}, "transform": [{"filter": "datum.k == 's1mn'"}], "mark": {"type": "text", "align": "left", "baseline": "middle", "fontSize": 11, "color": "#1A1A5E"},
 "encoding": {"x": {"field": "i"}, "y": {"field": "p"}, "text": {"field": "t"}}},
{"data": {"name": "notes"}, "transform": [{"filter": "datum.k == 'upmn'"}], "mark": {"type": "text", "align": "left", "baseline": "middle", "fontSize": 13, "color": "#1A1A5E"},
 "encoding": {"x": {"field": "i"}, "y": {"field": "p"}, "text": {"field": "t"}}},
{"data": {"name": "notes"}, "transform": [{"filter": "datum.k == 'uph1'"}], "mark": {"type": "text", "align": "center", "baseline": "middle", "fontSize": 11, "angle": 332, "color": "#1A1A5E"},
 "encoding": {"x": {"field": "i"}, "y": {"field": "p"}, "text": {"field": "t"}}},
{"data": {"name": "notes"}, "transform": [{"filter": "datum.k == 'dh4b'"}], "mark": {"type": "text", "align": "center", "baseline": "middle", "fontSize": 11, "angle": 44, "color": "#1A1A5E", "clip": true},
 "encoding": {"x": {"field": "i"}, "y": {"field": "p"}, "text": {"field": "t"}}},
{"data": {"name": "notes"}, "transform": [{"filter": "datum.k == 'dh4'"}], "mark": {"type": "text", "align": "center", "baseline": "middle", "fontSize": 11, "angle": 30, "color": "#1A1A5E", "clip": true},
 "encoding": {"x": {"field": "i"}, "y": {"field": "p"}, "text": {"field": "t"}}}
]
},
{
"width": 605, "height": 22,
"encoding": {
 "x": {"type": "quantitative", "scale": {"domain": [-0.5, 150.75], "nice": false, "zero": false}, "axis": null},
 "y": {"type": "quantitative", "scale": {"domain": [-0.0011, 0.0011], "nice": false, "zero": false},
       "axis": {"orient": "right", "values": [0.0004, -0.0004], "labelExpr": "datum.value > 0 ? '0.000968' : '-0.000983'", "title": null}}
},
"layer": [
{"data": {"name": "seps"}, "mark": {"type": "rule", "strokeDash": [3, 3], "color": "black", "strokeWidth": 1},
 "encoding": {"x": {"field": "i"}, "y": null}},
{"data": {"name": "osma"}, "mark": {"type": "rule", "strokeWidth": 3, "color": "#4682B4"},
 "encoding": {"x": {"field": "i"}, "y": {"field": "v"}, "y2": {"datum": 0}}},
{"data": {"name": "osl"}, "mark": {"type": "line", "strokeWidth": 1, "color": "#4682B4"},
 "encoding": {"x": {"field": "i"}, "y": {"field": "v"}}},
{"data": {"name": "osd"}, "mark": {"type": "line", "strokeWidth": 1, "color": "#4682B4", "strokeDash": [3, 3]},
 "encoding": {"x": {"field": "i"}, "y": {"field": "v"}}},
{"data": {"name": "oso"}, "mark": {"type": "line", "strokeWidth": 1, "color": "#B8860B", "strokeDash": [3, 2]},
 "encoding": {"x": {"field": "i"}, "y": {"field": "v"}}},
{"data": {"name": "sublabels"}, "transform": [{"filter": "datum.k == 'osma'"}], "mark": {"type": "text", "align": "left", "baseline": "middle", "fontSize": 10, "color": "#222222"},
 "encoding": {"x": {"datum": 0.5}, "y": {"datum": 0.0002}, "text": {"field": "t"}}}
]
},
{
"width": 605, "height": 15,
"encoding": {
 "x": {"type": "quantitative", "scale": {"domain": [-0.5, 150.75], "nice": false, "zero": false},
  "axis": {"orient": "bottom", "values": [0, 16, 32, 48, 64, 80, 96, 112], "labelExpr": "datum.value == 0 ? '30 Jan 2018' : datum.value == 16 ? '31 Jan 00:00' : datum.value == 32 ? '31 Jan 16:00' : datum.value == 48 ? '1 Feb 08:00' : datum.value == 64 ? '2 Feb 00:00' : datum.value == 80 ? '2 Feb 16:00' : datum.value == 96 ? '5 Feb 08:00' : '6 Feb 00:00'", "title": null, "tickSize": 4, "labelAlign": "left", "labelOffset": -1, "labelPadding": 2, "labelFontSize": 10}},
 "y": {"type": "quantitative", "scale": {"domain": [0, 100], "nice": false, "zero": false},
       "axis": {"orient": "right", "values": [100, 80, 20, 0], "title": null}}
},
"layer": [
{"data": {"name": "seps"}, "mark": {"type": "rule", "strokeDash": [3, 3], "color": "black", "strokeWidth": 1},
 "encoding": {"x": {"field": "i"}, "y": null}},
{"data": {"name": "levels"}, "mark": {"type": "rule", "strokeDash": [4, 3], "color": "#A8A8A8", "strokeWidth": 1},
 "encoding": {"x": null, "y": {"field": "v"}}},
{"data": {"name": "stoch"}, "mark": {"type": "line", "strokeWidth": 1, "color": "#6495ED"},
 "encoding": {"x": {"field": "i"}, "y": {"field": "b"}}},
{"data": {"name": "stoch"}, "mark": {"type": "line", "strokeWidth": 2.5, "color": "#4682B4"},
 "encoding": {"x": {"field": "i"}, "y": {"field": "a"}}},
{"data": {"name": "stoch"}, "mark": {"type": "line", "strokeWidth": 1, "color": "#D2481E", "strokeDash": [1, 7]},
 "encoding": {"x": {"field": "i"}, "y": {"field": "a"}}},
{"data": {"name": "sublabels"}, "transform": [{"filter": "datum.k == 'stoch'"}], "mark": {"type": "text", "align": "left", "baseline": "middle", "fontSize": 10, "color": "#222222"},
 "encoding": {"x": {"datum": 0.5}, "y": {"datum": 40}, "text": {"field": "t"}}}
]
}
]
}
